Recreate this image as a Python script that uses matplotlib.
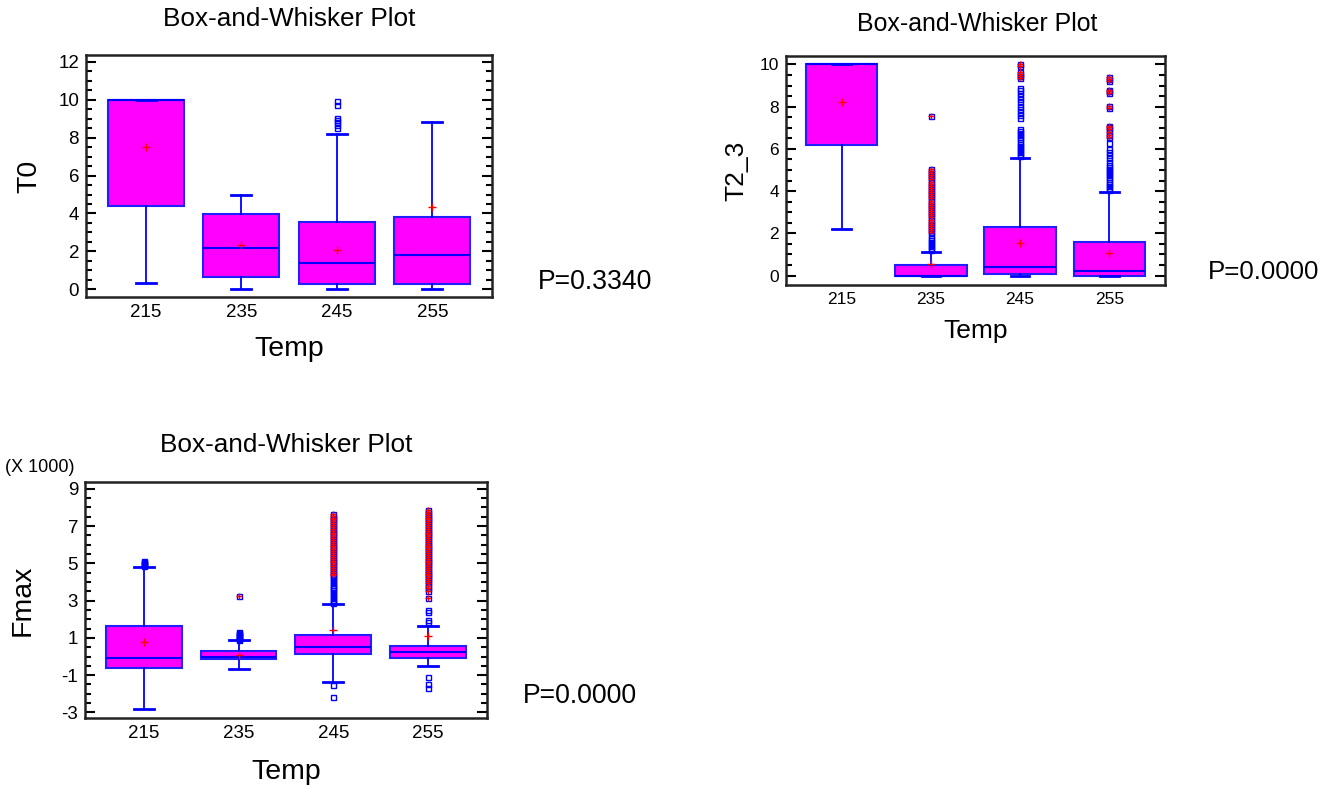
import numpy as np
import matplotlib
matplotlib.use("Agg")
import matplotlib.pyplot as plt
from matplotlib.ticker import MultipleLocator

plt.rcParams['font.family'] = ['Liberation Sans', 'DejaVu Sans']
plt.rcParams['axes.unicode_minus'] = False

temps = ['215', '235', '245', '255']

# T0 summary (q1, med, q3, whislo, whishi, mean)
t0_q1 = [4.4, 0.65, 0.3, 0.3]
t0_med = [10.0, 2.18, 1.4, 1.83]
t0_q3 = [10.0, 3.97, 3.56, 3.84]
t0_lo = [0.32, 0.0, 0.0, 0.0]
t0_hi = [10.0, 5.0, 8.18, 8.82]
t0_mean = [7.52, 2.35, 2.06, 4.36]
t0_out = [[], [], [8.5, 8.65, 8.8, 8.9, 9.05, 9.7, 9.92], []]

# T2_3 summary
t23_q1 = [6.2, 0.0, 0.08, 0.0]
t23_med = [10.0, 0.0, 0.42, 0.2]
t23_q3 = [10.0, 0.5, 2.3, 1.58]
t23_lo = [2.22, 0.0, 0.0, 0.0]
t23_hi = [10.0, 1.12, 5.56, 3.96]
t23_mean = [8.2, 0.55, 1.55, 1.05]
t23_out = [
    [],
    [1.2, 1.3, 1.4, 1.5, 1.6, 1.7, 1.8, 1.9, 2.05, 2.15, 2.25, 2.35, 2.45,
     2.55, 2.65, 2.75, 2.85, 2.95, 3.05, 3.15, 3.25, 3.35, 3.45, 3.55, 3.65,
     3.75, 3.85, 3.95, 4.05, 4.15, 4.25, 4.35, 4.45, 4.55, 4.65, 4.75, 4.85,
     4.95, 5.05, 7.55],
    [5.65, 5.75, 5.85, 5.95, 6.05, 6.15, 6.25, 6.35, 6.45, 6.55, 6.65, 6.75,
     6.85, 6.95, 7.45, 7.6, 7.75, 7.9, 8.05, 8.2, 8.35, 8.5, 8.65, 8.8, 8.88,
     9.35, 9.45, 9.55, 9.62, 9.95, 10.0],
    [4.05, 4.15, 4.25, 4.35, 4.45, 4.55, 4.65, 4.75, 4.85, 4.95, 5.05, 5.15,
     5.25, 5.4, 5.55, 5.7, 5.85, 6.0, 6.3, 6.55, 6.65, 6.8, 6.95, 7.05, 7.1,
     7.95, 8.05, 8.65, 8.75, 8.8, 9.2, 9.3, 9.4]]

# Fmax summary (in thousands)
fm_q1 = [-0.59, -0.14, 0.13, -0.1]
fm_med = [-0.1, -0.03, 0.49, 0.24]
fm_q3 = [1.61, 0.27, 1.18, 0.56]
fm_lo = [-2.84, -0.66, -1.37, -0.49]
fm_hi = [4.82, 0.86, 2.79, 1.61]
fm_mean = [0.78, 0.09, 1.4, 1.1]
fm_out = [
    [4.85, 4.9, 4.95, 5.0, 5.05, 5.1],
    [0.9, 0.95, 1.0, 1.05, 1.1, 1.15, 1.2, 1.25, 1.3, 3.25],
    [2.85, 2.95, 3.05, 3.15, 3.25, 3.35, 3.45, 3.55, 3.65, 3.75, 3.85, 3.95,
     4.05, 4.15, 4.25, 4.35, 4.45, 4.55, 4.65, 4.75, 4.85, 4.95, 5.05, 5.15,
     5.25, 5.35, 5.45, 5.55, 5.65, 5.75, 5.85, 5.95, 6.05, 6.15, 6.25, 6.35,
     6.45, 6.55, 6.65, 6.75, 6.85, 6.95, 7.05, 7.15, 7.25, 7.35, 7.45, 7.55,
     7.65, -1.52, -2.18],
    [1.85, 1.95, 2.4, 2.5, 3.15, 3.5, 3.65, 3.8, 3.95, 4.05, 4.15, 4.25, 4.35,
     4.45, 4.55, 4.65, 4.75, 4.85, 4.95, 5.05, 5.15, 5.25, 5.35, 5.45, 5.55,
     5.65, 5.75, 5.85, 5.95, 6.05, 6.15, 6.25, 6.35, 6.45, 6.55, 6.65, 6.75,
     6.85, 6.95, 7.05, 7.15, 7.25, 7.35, 7.45, 7.55, 7.65, 7.75, 7.85,
     -1.1, -1.45, -1.7]]


def boxes(ax, q1, med, q3, lo, hi, mean, out):
    stats = []
    for i in range(len(temps)):
        stats.append(dict(q1=q1[i], med=med[i], q3=q3[i], whislo=lo[i],
                          whishi=hi[i], mean=mean[i], fliers=out[i],
                          label=temps[i]))
    pos = np.arange(1, len(temps) + 1)
    ax.bxp(stats, positions=pos, widths=0.8, capwidths=0.21,
           patch_artist=True, showmeans=True,
           boxprops=dict(facecolor='#ff00ff', edgecolor='#2020ff', linewidth=1.5),
           medianprops=dict(color='#0000ff', linewidth=1.5),
           whiskerprops=dict(color='#0000ff', linewidth=1.3),
           capprops=dict(color='#0000ff', linewidth=2),
           meanprops=dict(marker='+', markeredgecolor='red', markersize=6,
                          markeredgewidth=1),
           flierprops=dict(marker='s', markerfacecolor='none',
                           markeredgecolor='#0000ff', markersize=3.6,
                           markeredgewidth=1))
    # far outside points (beyond 3 IQR) get a red plus
    for i in range(len(temps)):
        iqr = q3[i] - q1[i]
        far = [v for v in out[i] if v > q3[i] + 3 * iqr or v < q1[i] - 3 * iqr]
        ax.plot([pos[i]] * len(far), far, ls='none', marker='+', color='red',
                markersize=5, markeredgewidth=1)
    ax.set_xlim(0.375, 4.625)
    ax.tick_params(axis='x', length=0, pad=5)
    ax.tick_params(axis='y', which='both', direction='in', left=True,
                   right=True, width=1.5, pad=5)
    ax.tick_params(axis='y', which='major', length=7)
    ax.tick_params(axis='y', which='minor', length=4)
    ax.yaxis.set_minor_locator(MultipleLocator(0.5))
    for s in ax.spines.values():
        s.set_color('#222222')
        s.set_linewidth(1.8)


fig = plt.figure(figsize=(13.34, 7.88), dpi=100)

ax1 = fig.add_axes([0.0645, 0.6231, 0.3043, 0.3071])
boxes(ax1, t0_q1, t0_med, t0_q3, t0_lo, t0_hi, t0_mean, t0_out)
ax1.set_ylim(-0.4, 12.35)
ax1.set_yticks(np.arange(0, 13, 2))
ax1.tick_params(labelsize=13.5)
ax1.set_ylabel('T0', fontsize=20.5)
ax1.yaxis.set_label_coords(-0.108, 0.5)
ax1.set_xlabel('Temp', fontsize=20.5)
ax1.xaxis.set_label_coords(0.5, -0.16)

ax2 = fig.add_axes([0.5892, 0.6383, 0.2841, 0.2906])
boxes(ax2, t23_q1, t23_med, t23_q3, t23_lo, t23_hi, t23_mean, t23_out)
ax2.set_ylim(-0.45, 10.4)
ax2.set_yticks(np.arange(0, 11, 2))
ax2.tick_params(labelsize=12.5)
ax2.set_ylabel('T2_3', fontsize=19)
ax2.yaxis.set_label_coords(-0.1, 0.5)
ax2.set_xlabel('Temp', fontsize=19)
ax2.xaxis.set_label_coords(0.5, -0.15)

ax3 = fig.add_axes([0.0637, 0.0888, 0.3013, 0.2995])
boxes(ax3, fm_q1, fm_med, fm_q3, fm_lo, fm_hi, fm_mean, fm_out)
ax3.set_ylim(-3.3, 9.36)
ax3.set_yticks([-3, -1, 1, 3, 5, 7, 9])
ax3.tick_params(labelsize=13.5)
ax3.set_ylabel('Fmax', fontsize=20.5)
ax3.yaxis.set_label_coords(-0.122, 0.5)
ax3.set_xlabel('Temp', fontsize=20.5)
ax3.xaxis.set_label_coords(0.5, -0.175)

fig.text(289 / 1334, 1 - 19 / 788, 'Box-and-Whisker Plot', fontsize=18.8,
         ha='center', va='center')
fig.text(977 / 1334, 1 - 24 / 788, 'Box-and-Whisker Plot', fontsize=17.9,
         ha='center', va='center')
fig.text(286 / 1334, 1 - 445 / 788, 'Box-and-Whisker Plot', fontsize=18.8,
         ha='center', va='center')
fig.text(5 / 1334, 1 - 468 / 788, '(X 1000)', fontsize=13, ha='left',
         va='center')

fig.text(538 / 1334, 1 - 282 / 788, 'P=0.3340', fontsize=19.2, ha='left',
         va='center')
fig.text(1208 / 1334, 1 - 272 / 788, 'P=0.0000', fontsize=18.6, ha='left',
         va='center')
fig.text(523 / 1334, 1 - 696 / 788, 'P=0.0000', fontsize=19.2, ha='left',
         va='center')

fig.savefig('out.png', dpi=100, facecolor='white')
